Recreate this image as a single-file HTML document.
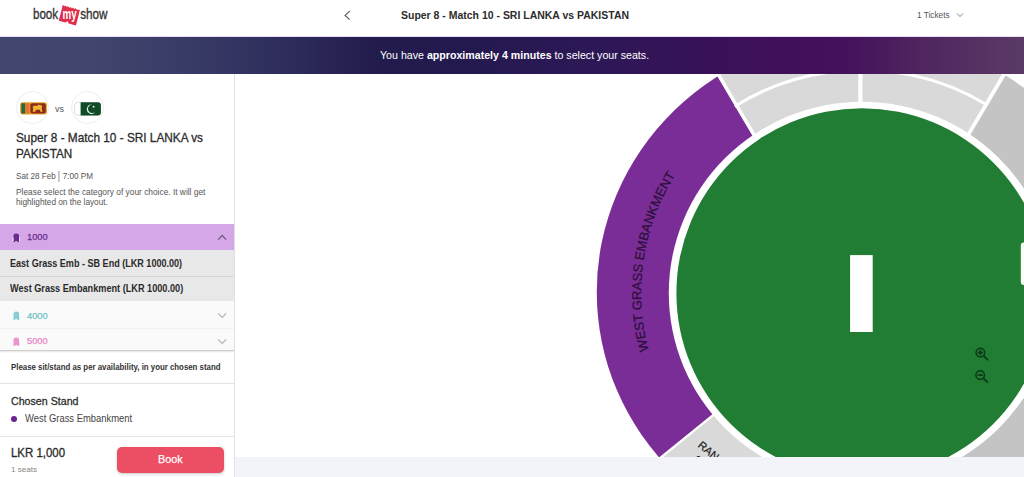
<!DOCTYPE html>
<html>
<head>
<meta charset="utf-8">
<title>BookMyShow - Seat Layout</title>
<style>
*{box-sizing:border-box;margin:0;padding:0}
html,body{width:1024px;height:477px;overflow:hidden;background:#fff;font-family:"Liberation Sans",sans-serif;color:#222}
.abs{position:absolute}
.tx{position:absolute;white-space:nowrap;line-height:1;transform-origin:0 0}
.tx b{font-weight:bold}
#hdr{position:absolute;left:0;top:0;width:1024px;height:37px;background:#fff;border-bottom:1px solid #eadcf2}
#ban{position:absolute;left:0;top:37px;width:1024px;height:37px;
 background:linear-gradient(90deg,#41476e 0%,#40466d 9%,#373965 20%,#2b2958 30%,#221b4c 37%,#24194f 45%,#2c1856 58%,#371259 68%,#42105b 78%,#45125c 83%,#4f2660 90%,#5b3a65 100%)}
#side{position:absolute;left:0;top:74px;width:235px;height:403px;background:#fff;border-right:1px solid #e2e2e2}
#main{position:absolute;left:235px;top:74px;width:789px;height:383px;background:#fff;overflow:hidden}
#foot{position:absolute;left:235px;top:457px;width:789px;height:20px;background:#f2f4f9}
.flag{position:absolute;width:33px;height:33px;border-radius:50%;border:1px solid #ededed;background:#fff}
.row{position:absolute;left:0;width:234px}
</style>
</head>
<body>
<div id="hdr"></div>
<div id="ban"></div>
<div id="side"></div>
<div id="main">
<svg class="abs" style="left:0;top:0" width="789" height="383" viewBox="235 74 789 383">
  <defs><clipPath id="oc"><ellipse cx="862.35" cy="292.0" rx="265.55" ry="257.0"/></clipPath><path id="tp" d="M696.25 439.07 A220.8 220.8 0 0 1 747.13 104.64"/></defs>
  <g clip-path="url(#oc)">
  <rect x="560" y="0" width="600" height="600" fill="#d9d9d9"/>
  <polygon points="873.88,295.38 1039.50,20.00 1300.00,20.00 1300.00,700.00 887.88,700.00" fill="#c4c4c4"/>
  <polygon points="846.71,294.80 682.60,17.40 400.00,17.40 400.00,500.70 605.40,500.70 862.00,293.20" fill="#7b2d97"/>
  </g>
  <line x1="760.07" y1="145.01" x2="708.25" y2="57.41" stroke="#fff" stroke-width="3.4"/>
  <line x1="963.92" y1="142.01" x2="1012.89" y2="59.06" stroke="#fff" stroke-width="3.6"/>
  <line x1="860.40" y1="60.00" x2="860.40" y2="110.00" stroke="#fff" stroke-width="4.2"/>
  <line x1="719.00" y1="410.58" x2="649.13" y2="467.31" stroke="#fff" stroke-width="2.0"/>
  <path d="M734.76 106.39 A233 223 0 0 1 987.53 105.33" fill="none" stroke="#fff" stroke-width="3"/>
  <ellipse cx="862.0" cy="293.2" rx="193.2" ry="191.39999999999998" fill="#fff"/>
  <ellipse cx="862.0" cy="293.2" rx="185.6" ry="185.0" fill="#207d33"/>
  <rect x="850.1" y="255.1" width="22.6" height="76.9" fill="#fff"/>
  <text font-family="Liberation Sans, sans-serif" font-size="13.05" fill="#2c0f3a" stroke="#2c0f3a" stroke-width="0.25" text-anchor="middle"><textPath href="#tp" startOffset="50%">WEST GRASS EMBANKMENT</textPath></text>
  <g transform="translate(697.2,446.2) rotate(40)" font-family="Liberation Sans, sans-serif" font-size="11" fill="#1a1a1a" stroke="#1a1a1a" stroke-width="0.2"><text x="0" y="0">RANJAN</text><text x="5.5" y="13.9">STAND</text></g>
  <g transform="translate(980.4,352.6)" fill="none" stroke="#0d3a17" stroke-width="1.5"><circle cx="0" cy="0" r="4.3"/><path d="M3.4 3.4 L7.6 7.6" stroke-width="1.8"/><path d="M-2.5 0 H2.5" stroke-width="1.8"/><path d="M0 -2.5 V2.5" stroke-width="1.8"/></g>
  <g transform="translate(980.2,375.1)" fill="none" stroke="#0d3a17" stroke-width="1.5"><circle cx="0" cy="0" r="4.3"/><path d="M3.4 3.4 L7.6 7.6" stroke-width="1.8"/><path d="M-2.5 0 H2.5" stroke-width="1.8"/></g>
  <rect x="1020.8" y="242.5" width="10" height="42.6" rx="3" fill="#f7fcf7"/>
</svg>
</div>
<div id="foot"></div>

<!-- logo -->
<svg class="abs" style="left:28px;top:0" width="86" height="32" viewBox="28 0 86 32">
  <text x="32.9" y="18.9" font-family="Liberation Sans, sans-serif" font-size="15.4" fill="#333" stroke="#333" stroke-width="0.35" textLength="25.3" lengthAdjust="spacingAndGlyphs">book</text>
  <path d="M62.8 4.8 L64.6 6.3 L65.4 5.5 L67 7 L67.9 6.2 L69.5 7.7 L70.4 6.9 L72 8.4 L72.9 7.6 L74.5 9.1 L75.4 8.3 L77 9.8 L79.9 9.7 L76 25.5 L68.6 23.5 L67.7 21.2 L65.4 22.6 L58.8 20.7 Z" fill="#df2f4d"/>
  <text x="62.5" y="18.9" font-family="Liberation Sans, sans-serif" font-size="15.4" font-weight="bold" fill="#fff" textLength="14.2" lengthAdjust="spacingAndGlyphs">my</text>
  <text x="80.2" y="18.9" font-family="Liberation Sans, sans-serif" font-size="15.4" fill="#333" stroke="#333" stroke-width="0.35" textLength="27.4" lengthAdjust="spacingAndGlyphs">show</text>
</svg>
<!-- back chevron -->
<svg class="abs" style="left:342px;top:9px" width="10" height="12" viewBox="0 0 10 12"><path d="M7.7 2.2 L3.1 6.4 L7.7 10.6" fill="none" stroke="#555" stroke-width="1.15"/></svg>
<!-- tickets chevron -->
<svg class="abs" style="left:956px;top:12px" width="8" height="6" viewBox="0 0 8 6"><path d="M1 1.4 L4 4.6 L7 1.4" fill="none" stroke="#888" stroke-width="1"/></svg>

<!-- flags -->
<div class="flag" style="left:16px;top:91px"></div>
<div class="flag" style="left:70.5px;top:91px"></div>
<svg class="abs" style="left:20px;top:102px" width="27" height="13" viewBox="0 0 27 13">
  <rect x="0" y="0.2" width="27" height="12.4" rx="3" fill="#e6a52b"/>
  <rect x="1.3" y="1.3" width="3.8" height="10.2" fill="#1f6c46"/>
  <rect x="5.1" y="1.3" width="4.2" height="10.2" fill="#e8722b"/>
  <rect x="10.3" y="1.3" width="15.5" height="10.2" rx="2" fill="#8d2a1c"/>
  <path transform="translate(17.7 6.5) scale(1.2) translate(-17.7 -6.5)" d="M13.5 9.3 L14 6.5 L13.3 5.2 L15 4 L16.5 4.4 L18.5 3.4 L20.5 3.6 L21.5 5 L21 6.5 L21.8 9.3 L20 9.3 L19.6 7.6 L16.4 7.6 L15.6 9.3 Z" fill="#efb532"/>
</svg>
<svg class="abs" style="left:74px;top:101.5px" width="27" height="14" viewBox="0 0 27 14">
  <rect x="0.6" y="0.6" width="25.8" height="12.6" rx="3" fill="#fff" stroke="#d4d4d4" stroke-width="0.8"/>
  <path d="M6.6 0.3 H23.9 A3 3 0 0 1 26.9 3.3 V10.4 A3 3 0 0 1 23.9 13.4 H6.6 Z" fill="#114c29"/>
  <path d="M18.2 2.5 A4.7 4.7 0 1 0 21.6 9.6 A4.3 4.3 0 1 1 18.2 2.5 Z" fill="#f4fbf6"/>
  <circle cx="19.6" cy="4.7" r="0.9" fill="#fff"/>
</svg>

<!-- category rows -->
<div class="row" style="top:224px;height:25.5px;background:#d5a7e9"></div>
<div class="row" style="top:249.5px;height:26px;background:#e8e8e8"></div>
<div class="row" style="top:275.6px;height:1px;background:#d6d6d6"></div>
<div class="row" style="top:276.6px;height:24.8px;background:#e8e8e8"></div>
<div class="row" style="top:301.4px;height:27.2px;background:#fafafa"></div>
<div class="row" style="top:328.4px;height:1px;background:#f1f1f1"></div>
<div class="row" style="top:329.4px;height:21px;background:#fafafa"></div>
<div class="row" style="top:350px;height:1px;background:#cfcfcf"></div>
<div class="row" style="top:351px;height:2px;background:linear-gradient(#e6e6e6,#fff)"></div>
<div class="row" style="top:383px;height:1px;background:#e4e4e4"></div>
<div class="row" style="top:436px;height:1px;background:#e4e4e4"></div>

<!-- seat icons -->
<svg class="abs" style="left:11.6px;top:232.7px" width="9" height="10" viewBox="0 0 9 10"><path d="M1.5 9 V2.4 Q1.5 0.4 4.2 0.4 Q7 0.4 7 2.4 V9 H5.3 V7.9 H3.2 V9 Z" fill="#6a2a8c"/><rect x="0.4" y="4.6" width="1.1" height="3.6" fill="#ecd6f6"/><rect x="7" y="4.6" width="1.1" height="3.6" fill="#ecd6f6"/></svg>
<svg class="abs" style="left:11.6px;top:310.9px" width="9" height="10" viewBox="0 0 9 10"><path d="M1.5 9 V2.4 Q1.5 0.4 4.2 0.4 Q7 0.4 7 2.4 V9 H5.3 V7.9 H3.2 V9 Z" fill="#86cdd4"/><rect x="0.4" y="4.6" width="1.1" height="3.6" fill="#d9f0f2"/><rect x="7" y="4.6" width="1.1" height="3.6" fill="#d9f0f2"/></svg>
<svg class="abs" style="left:11.6px;top:336.8px" width="9" height="10" viewBox="0 0 9 10"><path d="M1.5 9 V2.4 Q1.5 0.4 4.2 0.4 Q7 0.4 7 2.4 V9 H5.3 V7.9 H3.2 V9 Z" fill="#ec93d0"/><rect x="0.4" y="4.6" width="1.1" height="3.6" fill="#f9dcf0"/><rect x="7" y="4.6" width="1.1" height="3.6" fill="#f9dcf0"/></svg>
<!-- row chevrons -->
<svg class="abs" style="left:217px;top:234px" width="11" height="7" viewBox="0 0 11 7"><path d="M1.2 5.6 L5.2 1.5 L9.2 5.6" fill="none" stroke="#6f5b7a" stroke-width="1.25"/></svg>
<svg class="abs" style="left:217px;top:312.3px" width="11" height="7" viewBox="0 0 11 7"><path d="M1.2 1.4 L5.2 5.5 L9.2 1.4" fill="none" stroke="#b3b3b3" stroke-width="1.2"/></svg>
<svg class="abs" style="left:217px;top:338.4px" width="11" height="7" viewBox="0 0 11 7"><path d="M1.2 1.4 L5.2 5.5 L9.2 1.4" fill="none" stroke="#b3b3b3" stroke-width="1.2"/></svg>

<!-- chosen stand dot -->
<div class="abs" style="left:11px;top:415.6px;width:6.2px;height:6.2px;border-radius:50%;background:#6b2391"></div>
<!-- book button -->
<div class="abs" style="left:117px;top:446.5px;width:107px;height:26.5px;border-radius:5px;background:#ec4e63;box-shadow:0 1px 3px rgba(0,0,0,0.22)"></div>

<div class="tx" style="left:400.7px;top:9.95px;font-size:11.4px;font-weight:bold;color:#2c2c2c;transform:scaleX(0.9198)">Super 8 - Match 10 - SRI LANKA vs PAKISTAN</div>
<div class="tx" style="left:916.6px;top:10.77px;font-size:8.9px;font-weight:normal;color:#555;transform:scaleX(0.9306)">1 Tickets</div>
<div class="tx" style="left:379.9px;top:50.39px;font-size:11px;font-weight:normal;color:#fff;transform:scaleX(0.9665)">You have <b>approximately 4 minutes</b> to select your seats.</div>
<div class="tx" style="left:55.2px;top:104.58px;font-size:9px;font-weight:normal;color:#555;transform:scaleX(0.9889)">vs</div>
<div class="tx" style="left:16.1px;top:131.00px;font-size:13px;font-weight:normal;color:#2a2a2a;-webkit-text-stroke:0.3px #2a2a2a;transform:scaleX(0.9081)">Super 8 - Match 10 - SRI LANKA vs</div>
<div class="tx" style="left:16.1px;top:147.30px;font-size:13px;font-weight:normal;color:#2a2a2a;-webkit-text-stroke:0.3px #2a2a2a;transform:scaleX(0.9010)">PAKISTAN</div>
<div class="tx" style="left:16.0px;top:171.10px;font-size:8.8px;font-weight:normal;color:#555;transform:scaleX(0.9234)">Sat 28 Feb<span style="display:inline-block;width:1px;height:10.5px;background:#8a8a8a;margin:0 3.2px 0 3.4px;vertical-align:-2.3px"></span>7:00 PM</div>
<div class="tx" style="left:16.0px;top:187.75px;font-size:8.8px;font-weight:normal;color:#555;transform:scaleX(0.9494)">Please select the category of your choice. It will get</div>
<div class="tx" style="left:16.0px;top:198.35px;font-size:8.8px;font-weight:normal;color:#555;transform:scaleX(0.9394)">highlighted on the layout.</div>
<div class="tx" style="left:27.1px;top:232.10px;font-size:9.8px;font-weight:normal;color:#6a2a8c;-webkit-text-stroke:0.25px #6a2a8c;transform:scaleX(0.9451)">1000</div>
<div class="tx" style="left:10.4px;top:258.54px;font-size:10px;font-weight:bold;color:#2b2b2b;transform:scaleX(0.9054)">East Grass Emb - SB End (LKR 1000.00)</div>
<div class="tx" style="left:10.4px;top:284.34px;font-size:10px;font-weight:bold;color:#2b2b2b;transform:scaleX(0.9147)">West Grass Embankment (LKR 1000.00)</div>
<div class="tx" style="left:27.1px;top:310.60px;font-size:9.8px;font-weight:normal;color:#6fc0c9;-webkit-text-stroke:0.25px #6fc0c9;transform:scaleX(0.9451)">4000</div>
<div class="tx" style="left:27.1px;top:336.10px;font-size:9.8px;font-weight:normal;color:#e684c6;-webkit-text-stroke:0.25px #e684c6;transform:scaleX(0.9451)">5000</div>
<div class="tx" style="left:10.8px;top:364.16px;font-size:8.2px;font-weight:bold;color:#333;transform:scaleX(0.9579)">Please sit/stand as per availability, in your chosen stand</div>
<div class="tx" style="left:11.0px;top:395.63px;font-size:11.3px;font-weight:normal;color:#2e2e2e;-webkit-text-stroke:0.3px #2e2e2e;transform:scaleX(0.9426)">Chosen Stand</div>
<div class="tx" style="left:24.8px;top:414.15px;font-size:10.1px;font-weight:normal;color:#444;transform:scaleX(0.9337)">West Grass Embankment</div>
<div class="tx" style="left:10.6px;top:446.74px;font-size:12px;font-weight:normal;color:#2a2a2a;-webkit-text-stroke:0.3px #2a2a2a;transform:scaleX(0.9538)">LKR 1,000</div>
<div class="tx" style="left:10.6px;top:465.73px;font-size:8px;font-weight:normal;color:#888;transform:scaleX(1.0118)">1 seats</div>
<div class="tx" style="left:157.9px;top:454.23px;font-size:11.3px;font-weight:normal;color:#fff;-webkit-text-stroke:0.25px #fff;transform:scaleX(0.9553)">Book</div>
</body>
</html>
